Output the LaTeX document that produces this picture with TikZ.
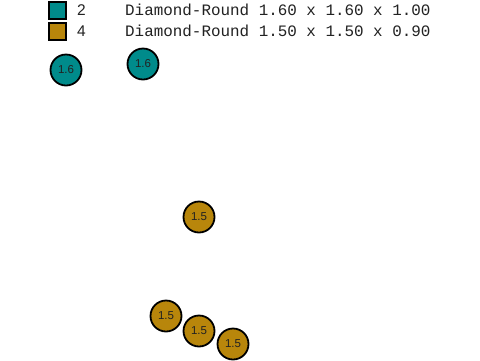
\documentclass[tikz,border=0pt]{standalone}
\usepackage{fontspec}
\setmainfont{Liberation Sans}
\newfontfamily\monofnt{Liberation Mono}
\definecolor{tealc}{HTML}{008B8B}
\definecolor{goldc}{HTML}{B8860B}
\definecolor{txt}{HTML}{222222}
\begin{document}
\begin{tikzpicture}[x=1bp,y=-1bp,
  legsq/.style={draw=black,line width=2bp,minimum size=17bp,inner sep=0pt},
  ball/.style={circle,draw=black,line width=1.8bp,minimum size=31bp,inner sep=0pt,font=\fontsize{11.5bp}{12bp}\selectfont,text=txt},
  legnum/.style={anchor=west,inner sep=0pt,font=\fontsize{15.5bp}{16bp}\selectfont,text=txt},
  legtxt/.style={anchor=west,inner sep=0pt,font=\monofnt\fontsize{15.9bp}{16bp}\selectfont,text=txt}]
\useasboundingbox[fill=white] (0,0) rectangle (480,360);
\node[legsq,fill=tealc] (s1) at (57,10) {};
\node[legsq,fill=goldc] (s2) at (57,31) {};
\node[legnum] (n1) at (77,10) {2};
\node[legnum] (n2) at (77,31) {4};
\node[legtxt] (t1) at (125,10) {Diamond-Round 1.60 x 1.60 x 1.00};
\node[legtxt] (t2) at (125,31) {Diamond-Round 1.50 x 1.50 x 0.90};
\node[ball,fill=tealc] (b1) at (66,70) {1.6};
\node[ball,fill=tealc] (b2) at (143,64) {1.6};
\node[ball,fill=goldc] (b3) at (199,217) {1.5};
\node[ball,fill=goldc] (b4) at (166,316) {1.5};
\node[ball,fill=goldc] (b5) at (199,331) {1.5};
\node[ball,fill=goldc] (b6) at (233,344) {1.5};
\end{tikzpicture}
\end{document}
